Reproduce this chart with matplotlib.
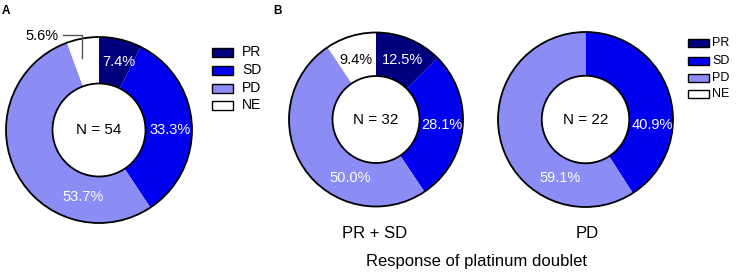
import matplotlib
matplotlib.use("Agg")
import matplotlib.pyplot as plt
from matplotlib.patches import Circle, Rectangle
from matplotlib.lines import Line2D

plt.rcParams['font.family'] = ['Liberation Sans', 'DejaVu Sans']

# ---------------- data ----------------
categories = ["PR", "SD", "PD", "NE"]
colors = ["#00007F", "#0000F0", "#8C8CF5", "#FFFFFF"]

values_A = [7.4, 33.3, 53.7, 5.6]
n_A = 54
values_B1 = [12.5, 28.1, 50.0, 9.4]
n_B1 = 32
values_B2 = [0.0, 40.9, 59.1, 0.0]
n_B2 = 22

group_labels = ["PR + SD", "PD"]
xlabel_B = "Response of platinum doublet"

# ---------------- layout (pixels) ----------------
W, H = 736, 273
DPI = 100
fig = plt.figure(figsize=(W / DPI, H / DPI), dpi=DPI)


def px_axes(cx, cy, r):
    """axes whose data unit circle maps to radius r pixels around (cx, cy) from top-left"""
    ax = fig.add_axes([(cx - r) / W, (H - cy - r) / H, 2 * r / W, 2 * r / H])
    return ax


def donut(ax, values, n, label_pos, label_colors):
    wedges, _ = ax.pie(values, colors=colors, startangle=90, counterclock=False,
                       radius=1.0, wedgeprops=dict(width=0.5, linewidth=0))
    ax.set_xlim(-1, 1)
    ax.set_ylim(-1, 1)
    ax.set_aspect('equal')
    ax.axis('off')
    for w in wedges:
        w.set_clip_on(False)
    ax.add_patch(Circle((0, 0), 1.0, fill=False, ec='black', lw=1.3, clip_on=False))
    ax.add_patch(Circle((0, 0), 0.5, fill=False, ec='black', lw=1.3, clip_on=False))
    ax.text(0, 0, f"N = {n}", ha='center', va='center', fontsize=11, color='black')
    for v, pos, c in zip(values, label_pos, label_colors):
        if v <= 0 or pos is None:
            continue
        ax.text(pos[0], pos[1], f"{v:.1f}%", ha='center', va='center',
                fontsize=10.5, color=c, clip_on=False)


# Panel A
axA = px_axes(99, 130, 93)
donut(axA, values_A, n_A,
      [(0.215, 0.726), (0.763, 0.0), (-0.172, -0.72), (-0.61, 1.01)],
      ['white', 'white', 'white', 'black'])
axA.add_line(Line2D([-0.39, -0.183, -0.183], [1.02, 1.02, 0.77],
                    color='#555555', lw=1.0, clip_on=False))

# Panel B
axB1 = px_axes(376, 119.5, 87)
donut(axB1, values_B1, n_B1,
      [(0.30, 0.684), (0.76, -0.063), (-0.30, -0.67), (-0.23, 0.684)],
      ['white', 'white', 'white', 'black'])
axB2 = px_axes(585.5, 119.5, 87.5)
donut(axB2, values_B2, n_B2,
      [None, (0.76, -0.063), (-0.29, -0.67), None],
      ['white', 'white', 'white', 'black'])

# group labels
fig.text(374.5 / W, 1 - 238 / H, group_labels[0], ha='center', va='baseline', fontsize=12)
fig.text(587 / W, 1 - 238 / H, group_labels[1], ha='center', va='baseline', fontsize=12)
fig.text(477 / W, 1 - 266 / H, xlabel_B, ha='center', va='baseline', fontsize=12)

# panel letters
fig.text(2 / W, 1 - 13.5 / H, "A", ha='left', va='baseline', fontsize=8.5, fontweight='bold')
fig.text(273 / W, 1 - 13.5 / H, "B", ha='left', va='baseline', fontsize=8.5, fontweight='bold')


# legends
def legend(x0, w, h, y_centers, tx, fs):
    for cat, col, yc in zip(categories, colors, y_centers):
        fig.patches.append(Rectangle((x0 / W, (H - yc - h / 2) / H), w / W, h / H,
                                     transform=fig.transFigure, fc=col, ec='black', lw=1.0))
        fig.text(tx / W, 1 - yc / H, cat, ha='left', va='center', fontsize=fs)


legend(212, 21, 9, [52, 70, 88, 105], 242, 10)
legend(688, 21, 8, [43, 61, 78, 94], 712, 9)

fig.savefig("out.png", dpi=DPI)
